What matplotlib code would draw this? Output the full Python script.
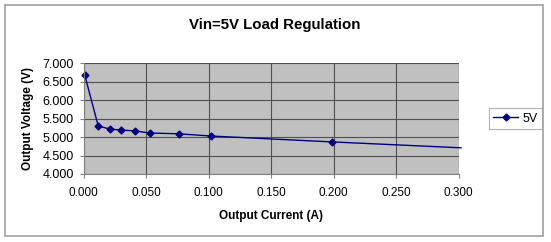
import matplotlib
matplotlib.use("Agg")
import matplotlib.pyplot as plt
from matplotlib.patches import Rectangle

current = [0.001, 0.0118, 0.021, 0.030, 0.041, 0.053, 0.076, 0.1016, 0.1986, 0.302]
voltage = [6.68, 5.30, 5.22, 5.19, 5.17, 5.11, 5.09, 5.03, 4.87, 4.71]
series_name = "5V"
title = "Vin=5V Load Regulation"
xlabel = "Output Current (A)"
ylabel = "Output Voltage (V)"
xticks = [0.0, 0.05, 0.10, 0.15, 0.20, 0.25, 0.30]
yticks = [4.0, 4.5, 5.0, 5.5, 6.0, 6.5, 7.0]

plt.rcParams['font.family'] = ['Liberation Sans', 'DejaVu Sans']
W, H = 551, 242
fig = plt.figure(figsize=(W / 100, H / 100), dpi=100)
fig.patch.set_facecolor('white')

# outer chart frame
fig.patches.append(Rectangle((5 / W, 1 - 236 / H), (543 - 5) / W, (236 - 5) / H,
                             transform=fig.transFigure, fill=False,
                             edgecolor='#a0a0a0', linewidth=1.2))

ax = fig.add_axes([83.5 / W, 1 - 174 / H, 375 / W, (174 - 63.3) / H])
ax.set_facecolor('#c0c0c0')
ax.set_xlim(0, 0.3)
ax.set_ylim(4.0, 7.0)
ax.set_xticks(xticks)
ax.set_yticks(yticks)
ax.set_xticklabels([f"{t:.3f}" for t in xticks], fontsize=8.5)
ax.set_yticklabels([f"{t:.3f}" for t in yticks], fontsize=9)
ax.grid(True, color='#505050', linewidth=0.8)
ax.set_axisbelow(True)
for s in ['top', 'right']:
    ax.spines[s].set_visible(False)
for s in ['left', 'bottom']:
    ax.spines[s].set_color('#808080')
ax.tick_params(length=3, color='#808080', pad=4)
ax.tick_params(axis='x', pad=6)

ax.plot(current, voltage, color='#000080', linewidth=1.0, marker='D',
        markersize=3.5, markevery=list(range(len(current) - 1)),
        clip_on=False, label=series_name)

ax.set_xlabel(xlabel, fontsize=8.5, fontweight='bold', labelpad=8)
ax.set_ylabel(ylabel, fontsize=8.5, fontweight='bold', labelpad=6)
fig.text(275 / W, 1 - 25 / H, title, ha='center', va='center',
         fontsize=10.8, fontweight='bold')

leg = ax.legend(loc='center left', bbox_to_anchor=(489 / W, 1 - 118.8 / H),
                bbox_transform=fig.transFigure, fontsize=9, frameon=True,
                fancybox=False, borderpad=0.35, handlelength=2.0,
                handletextpad=0.3, borderaxespad=0)
leg.get_frame().set_edgecolor('#a0a0a0')
leg.get_frame().set_linewidth(0.8)

fig.savefig("out.png", dpi=100, facecolor='white')
